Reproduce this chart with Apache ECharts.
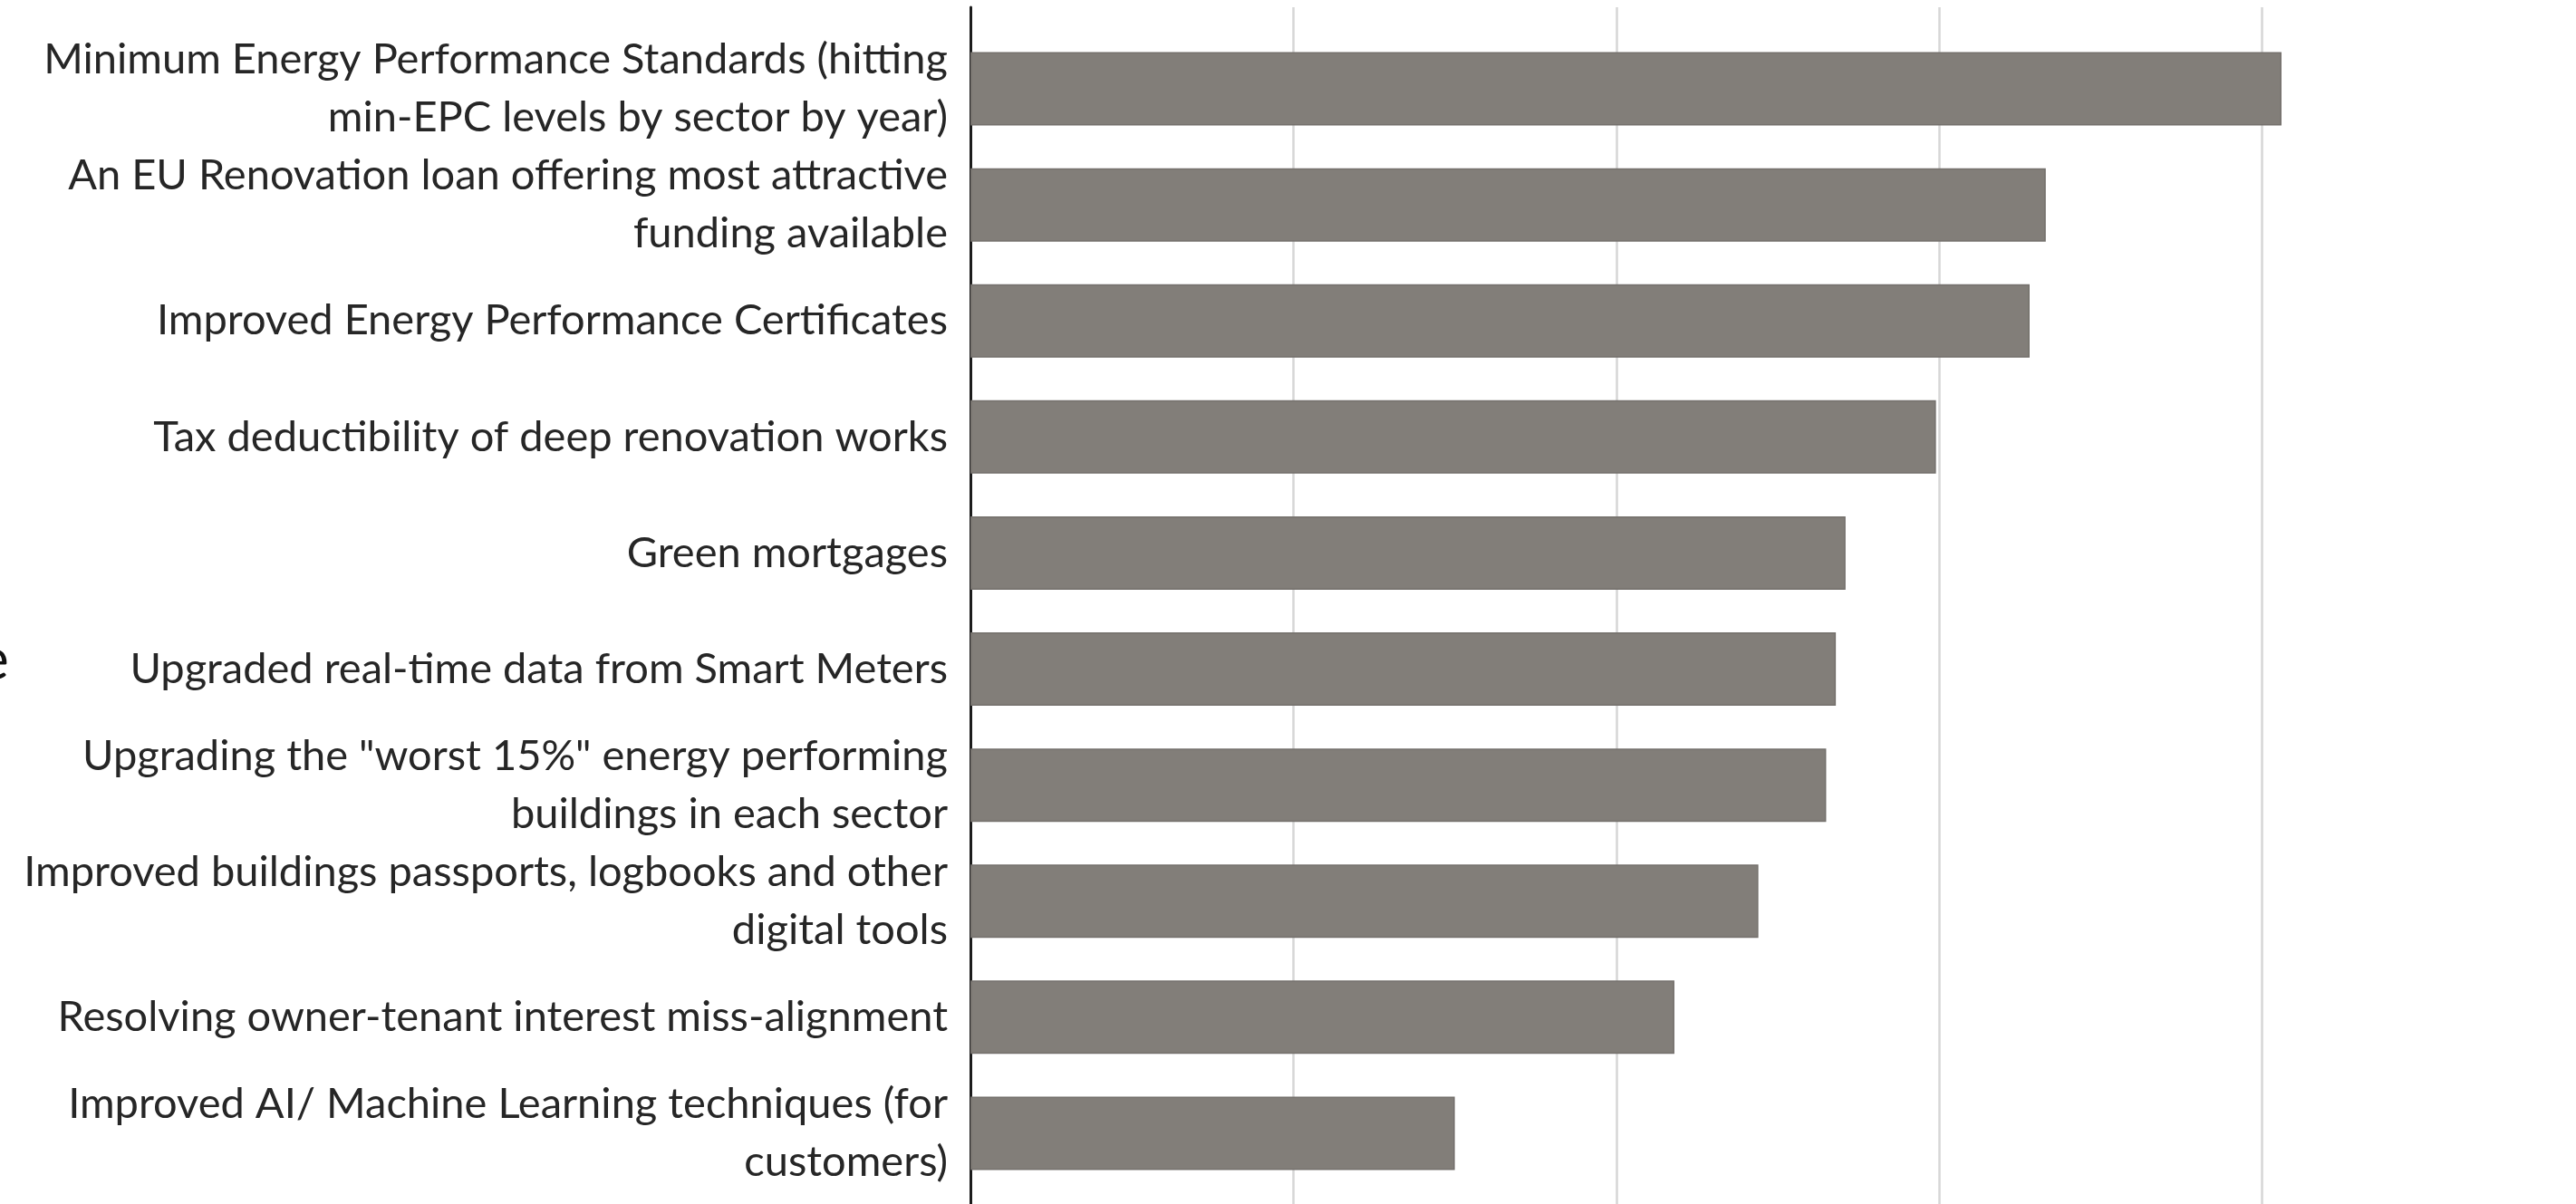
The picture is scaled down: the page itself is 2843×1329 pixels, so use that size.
<!DOCTYPE html>
<html>
<head>
<meta charset="utf-8">
<script src="https://cdn.jsdelivr.net/npm/echarts@6/dist/echarts.min.js"></script>
<style>
html,body{margin:0;padding:0;background:#ffffff;}
#chart{width:2843px;height:1329px;}
</style>
</head>
<body>
<div id="chart"></div>
<script>
const categories = [
  "Minimum Energy Performance Standards (hitting\nmin-EPC levels by sector by year)",
  "An EU Renovation loan offering most attractive\nfunding available",
  "Improved Energy Performance Certificates",
  "Tax deductibility of deep renovation works",
  "Green mortgages",
  "Upgraded real-time data from Smart Meters",
  "Upgrading the \"worst 15%\" energy performing\nbuildings in each sector",
  "Improved buildings passports, logbooks and other\ndigital tools",
  "Resolving owner-tenant interest miss-alignment",
  "Improved AI/ Machine Learning techniques (for\ncustomers)"
];
const values = [4.06, 3.33, 3.28, 2.99, 2.71, 2.68, 2.65, 2.44, 2.18, 1.50];
const axisMin = 0;
const axisMax = 4.972;   // visible part of the value axis (chart cropped at right)
const axisStep = 1;

const FONT = 'Lato';
const chart = echarts.init(document.getElementById('chart'), null, {renderer: 'canvas'});
chart.setOption({
  backgroundColor: '#ffffff',
  animation: false,
  grid: [
    {left: 1071, top: 8, right: 0, bottom: 0, containLabel: false},
    {left: 1071, top: 34, right: 0, height: 1281, containLabel: false}
  ],
  xAxis: [
    {gridIndex: 0, type: 'value', min: axisMin, max: axisMax, interval: axisStep,
     axisLine: {show: false}, axisTick: {show: false}, axisLabel: {show: false},
     splitLine: {show: true, showMinLine: false, showMaxLine: false,
       lineStyle: {color: '#d6d6d6', width: 2.5}}},
    {gridIndex: 1, type: 'value', min: axisMin, max: axisMax, interval: axisStep,
     axisLine: {show: false}, axisTick: {show: false}, axisLabel: {show: false},
     splitLine: {show: false}}
  ],
  yAxis: [
    {gridIndex: 0, type: 'category', data: [''],
     axisLine: {show: true, lineStyle: {color: '#1c1c1c', width: 3}},
     axisTick: {show: false}, axisLabel: {show: false}, splitLine: {show: false}},
    {gridIndex: 1, type: 'category', data: categories, inverse: true,
     axisLine: {show: false}, axisTick: {show: false}, splitLine: {show: false},
     axisLabel: {show: true, interval: 0, hideOverlap: false, margin: 25,
       color: '#262626', fontFamily: FONT,
       fontSize: 47, lineHeight: 64, align: 'right', padding: [0, 0, 7, 0]}}
  ],
  series: [{
    type: 'bar', xAxisIndex: 1, yAxisIndex: 1, data: values, barWidth: 81,
    itemStyle: {color: '#827e79', borderColor: '#74706c', borderWidth: 1.5},
    silent: true
  }],
  graphic: [{
    type: 'text', left: -24, top: 697,
    style: {text: 'e', font: '64px ' + FONT, fill: '#111111'}
  }]
});
</script>
</body>
</html>
